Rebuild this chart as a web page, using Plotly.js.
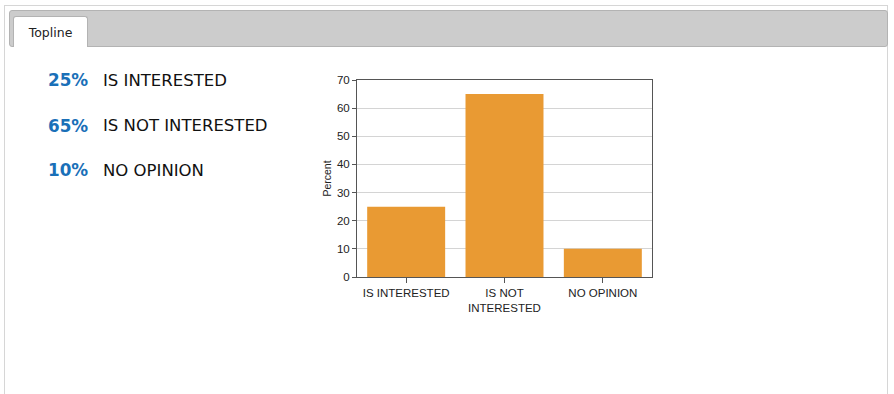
<!DOCTYPE html>
<html>
<head>
<meta charset="utf-8">
<script src="https://cdn.plot.ly/plotly-3.0.1.min.js"></script>
<style>
  html, body { margin: 0; padding: 0; background: #ffffff; width: 894px; height: 394px; overflow: hidden; }
  #outer { position: absolute; left: 4px; top: 5px; width: 884px; height: 400px;
           border: 1px solid #d6d6d6; border-bottom: none; box-sizing: border-box; }
  #bar { position: absolute; left: 9px; top: 10px; width: 879px; height: 37px; box-sizing: border-box;
         background: #cccccc; border: 1px solid #b3b3b3; border-radius: 3px; }
  #tab { position: absolute; left: 13px; top: 16px; width: 75px; height: 31px; box-sizing: border-box;
         background: #ffffff; border: 1px solid #b3b3b3; border-bottom: none; border-radius: 3px 3px 0 0;
         font-family: "DejaVu Sans", Verdana, sans-serif; font-size: 12.5px; color: #222;
         text-align: center; line-height: 31px; }
  #chart { position: absolute; left: 0; top: 0; width: 894px; height: 394px; }
</style>
</head>
<body>
<div id="outer"></div>
<div id="bar"></div>
<div id="tab">Topline</div>
<div id="chart"></div>
<script>
// Data
var categories = ['IS INTERESTED', 'IS NOT INTERESTED', 'NO OPINION'];
var tickLabels = ['IS INTERESTED', 'IS NOT<br>INTERESTED', 'NO OPINION'];
var percents = [25, 65, 10];
var yTicks = [0, 10, 20, 30, 40, 50, 60, 70];

// Plot area in pixels
var W = 894, H = 394;
var PL = 357, PR = 652, PT = 80, PB = 277;
function px2x(px) { return (px - PL) / (PR - PL); }
function px2y(py) { return (PB - py) / (PB - PT); }

var rowY = [80.5, 125.5, 170];
var annotations = [];
for (var i = 0; i < categories.length; i++) {
  annotations.push({
    xref: 'paper', yref: 'paper', x: px2x(46), y: px2y(rowY[i]),
    xanchor: 'left', yanchor: 'middle', showarrow: false,
    text: '<b>' + percents[i] + '%</b>',
    font: { family: 'DejaVu Sans, Verdana, sans-serif', size: 16.8, color: '#1a70b8' }
  });
  annotations.push({
    xref: 'paper', yref: 'paper', x: px2x(101), y: px2y(rowY[i]),
    xanchor: 'left', yanchor: 'middle', showarrow: false,
    text: categories[i],
    font: { family: 'DejaVu Sans, Verdana, sans-serif', size: 16.5, color: '#111111' }
  });
}

var trace = {
  type: 'bar',
  x: categories,
  y: percents,
  marker: { color: '#e99a33', line: { width: 0 } },
  hoverinfo: 'x+y'
};

var layout = {
  width: W, height: H,
  margin: { l: PL, r: W - PR, t: PT, b: H - PB, pad: 0 },
  paper_bgcolor: 'rgba(0,0,0,0)',
  plot_bgcolor: 'rgba(0,0,0,0)',
  showlegend: false,
  bargap: 0.207,
  font: { family: 'Liberation Sans, Arial, sans-serif', size: 11, color: '#222' },
  xaxis: {
    type: 'category',
    tickvals: categories,
    ticktext: tickLabels,
    tickfont: { family: 'Liberation Sans, Arial, sans-serif', size: 11.5, color: '#222' },
    ticks: 'outside', ticklen: 5, tickcolor: '#555', tickwidth: 1,
    showline: true, linecolor: '#555', linewidth: 1, mirror: true,
    showgrid: false, zeroline: false, fixedrange: true
  },
  yaxis: {
    range: [0, 70],
    tickvals: yTicks,
    tickfont: { family: 'Liberation Sans, Arial, sans-serif', size: 11.5, color: '#222' },
    ticks: 'outside', ticklen: 4, tickcolor: '#555', tickwidth: 1,
    showline: true, linecolor: '#555', linewidth: 1, mirror: true,
    showgrid: true, gridcolor: '#d4d4d4', gridwidth: 1,
    zeroline: false, fixedrange: true,
    title: { text: 'Percent', font: { family: 'Liberation Sans, Arial, sans-serif', size: 10.5, color: '#222' }, standoff: 3 }
  },
  annotations: annotations
};

Plotly.newPlot('chart', [trace], layout, { displayModeBar: false, staticPlot: true });
</script>
</body>
</html>
